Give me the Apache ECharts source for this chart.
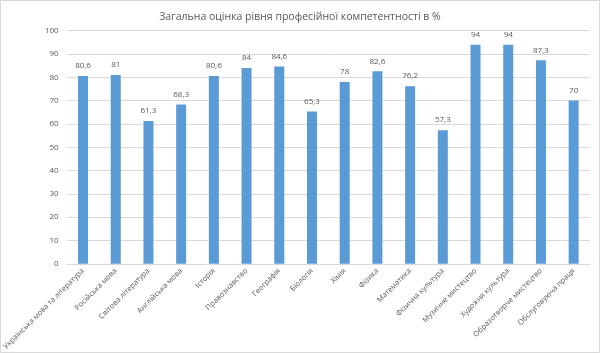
<!DOCTYPE html>
<html><head><meta charset="utf-8">
<script src="https://cdn.jsdelivr.net/npm/echarts@6/dist/echarts.min.js"></script>
<style>html,body{margin:0;padding:0;background:#fff}#c{width:600px;height:353px}</style>
</head><body><div id="c"></div>
<script>
var categories = ['Українська мова та література','Російська мова','Світова література','Англійська мова','Історія','Правознавство','Географія','Біологія','Хімія','Фізика','Математика','Фізична культура','Музичне мистецтво','Художня культура','Образотворче мистецтво','Обслуговуюча праця'];
var values = [80.6, 81, 61.3, 68.3, 80.6, 84, 84.6, 65.3, 78, 82.6, 76.2, 57.3, 94, 94, 87.3, 70];
var yTicks = {min: 0, max: 100, interval: 10};
var title = 'Загальна оцінка рівня професійної компетентності в %';
var chart = echarts.init(document.getElementById('c'));
var font = '"Open Sans", "Noto Sans", sans-serif';
chart.setOption({
  animation: false,
  textStyle: {fontFamily: font},
  title: {text: title, left: 'center', top: 7, textStyle: {fontSize: 10.5, fontWeight: 'normal', color: '#595959', fontFamily: font}},
  graphic: [{type: 'rect', shape: {x: 0.5, y: 0.5, width: 599, height: 352}, style: {fill: 'none', stroke: '#d9d9d9', lineWidth: 1}}],
  grid: {left: 60, right: 10, top: 30.7, bottom: 86, containLabel: false},
  xAxis: {type: 'category', data: categories,
    axisLine: {lineStyle: {color: '#d9d9d9'}}, axisTick: {show: false},
    axisLabel: {rotate: 45, interval: 0, fontSize: 7.5, color: '#595959', margin: 6, fontFamily: font}},
  yAxis: {type: 'value', min: yTicks.min, max: yTicks.max, interval: yTicks.interval,
    axisLine: {show: false}, axisTick: {show: false},
    splitLine: {lineStyle: {color: '#d9d9d9'}},
    axisLabel: {fontSize: 8, color: '#595959', margin: 8, fontFamily: font}},
  series: [{type: 'bar', data: values, barWidth: 10, itemStyle: {color: '#5b9bd5'},
    label: {show: true, position: 'top', fontSize: 8, color: '#595959', distance: 6, fontFamily: font,
      formatter: function(p){ return String(p.value).replace('.', ','); }}}]
});
</script></body></html>
